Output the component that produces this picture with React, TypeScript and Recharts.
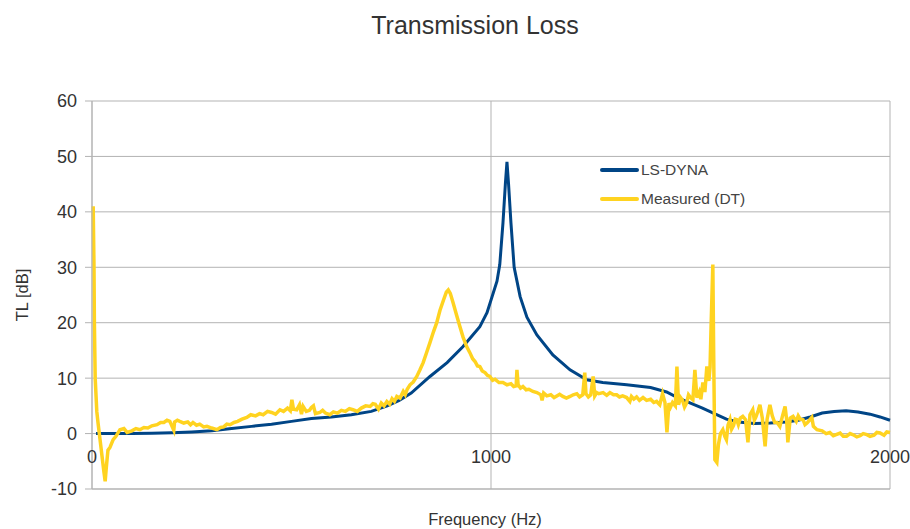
import React from "react";
import { LineChart, Line, XAxis, YAxis, CartesianGrid } from "recharts";

// LS-DYNA simulation (frequency in Hz, TL in dB)
const dynaFreq = [
  10, 50, 100, 150, 200, 250, 300, 350, 400, 450, 500, 550, 600, 650, 700, 740, 770, 800, 847, 890,
  930, 972, 990, 1015, 1022, 1030, 1036, 1040, 1044, 1050, 1058, 1073, 1090, 1115, 1155, 1198, 1240,
  1280, 1340, 1400, 1440, 1470, 1500, 1530, 1560, 1590, 1620, 1660, 1700, 1740, 1770, 1800, 1830,
  1860, 1890, 1920, 1950, 1975, 2000,
];
const dynaTL = [
  0, 0, 0, 0.05, 0.15, 0.3, 0.5, 0.9, 1.3, 1.7, 2.2, 2.7, 3.0, 3.4, 4.0, 5.0, 6.0, 7.3, 10.3, 12.8,
  15.7, 19.3, 21.8, 27.5, 30.5, 38, 45, 49, 45, 38, 30, 24.7, 21, 17.8, 14.2, 11.5, 9.7,
  9.2, 8.8, 8.3, 7.5, 6.4, 5.5, 4.6, 3.6, 2.6, 2.1, 1.8, 1.9, 2.1, 2.4, 3.0, 3.7,
  4.0, 4.1, 3.9, 3.5, 3.0, 2.4,
];

// Measured (DT)
const measFreq = [
  3, 5, 6, 8, 12, 15, 20, 25, 30, 33, 36, 40, 45, 53, 60, 70, 80, 88, 100, 110, 120, 130, 140, 150, 163, 172, 180, 188, 195,
  205, 207, 214, 220, 230, 240, 247, 253, 262, 270, 280, 288, 300, 313, 322, 330, 338, 346, 356, 365, 376, 388, 398, 410, 420, 429, 440, 450, 460, 471, 480, 490, 497, 501, 505,
  513, 520, 525, 529, 537, 545, 550, 555, 560, 571, 578, 585, 596, 605, 615, 625, 635, 645, 654, 665, 675, 686, 697, 704, 710, 718, 725, 732, 739, 746, 752,
  758, 764, 772, 780, 785, 790, 797, 805, 814, 822, 830, 838, 847, 856, 864, 872, 881, 888, 893, 898, 905, 914,
  922, 930, 939, 947, 954, 960, 966, 972, 978, 985, 991, 997, 1004, 1010, 1020, 1030, 1040, 1050, 1057, 1063, 1065, 1068, 1074, 1080, 1088, 1095, 1105, 1115, 1125,
  1128, 1132, 1140, 1150, 1158, 1165, 1172, 1180, 1189, 1198, 1206, 1215, 1222, 1230, 1235, 1238, 1244, 1250, 1256, 1260, 1265, 1270, 1281, 1290, 1298, 1307, 1315,
  1322, 1330, 1340, 1348, 1352, 1358, 1365, 1372, 1381, 1390, 1400, 1408, 1415, 1423, 1430, 1436, 1441, 1446, 1450, 1455, 1462, 1466, 1470, 1475, 1480,
  1485, 1490, 1495, 1500, 1506, 1511, 1516, 1522, 1526, 1531, 1536, 1541, 1546, 1549, 1552, 1556, 1558, 1561, 1566, 1570,
  1575, 1581, 1586, 1590, 1594, 1599, 1603, 1608, 1612, 1616, 1620, 1625, 1631, 1638, 1644, 1649, 1656, 1660, 1664, 1670, 1674,
  1680, 1687, 1692, 1699, 1705, 1711, 1717, 1724, 1730, 1737, 1741, 1744, 1750, 1757, 1765, 1770, 1775, 1782,
  1787, 1792, 1798, 1804, 1808, 1817, 1830, 1840, 1849, 1858, 1865, 1875, 1883, 1891, 1900, 1910, 1917, 1925, 1933, 1942, 1950, 1960, 1967, 1975, 1985, 1992, 2000,
];
const measTL = [
  41, 30, 20, 10, 4, 2, -1, -4, -7, -8.6, -6, -3, -2.5, -1.1, -0.5, 0.7, 0.9, 0.2, 0.5, 0.9, 0.7, 1.1, 1.0, 1.4, 1.6, 2.0, 2.0, 2.4, 2.2,
  0.6, 2.1, 2.4, 2.2, 1.9, 2.1, 1.6, 2.0, 1.5, 1.7, 1.2, 1.3, 1.0, 0.7, 1.1, 1.2, 1.7, 1.6, 2.0, 2.2, 2.6, 2.9, 3.4, 3.2, 3.6, 3.4, 4.0, 3.8, 3.5, 4.3, 4.0, 4.6, 4.1, 6.1, 4.4,
  4.3, 5.2, 3.5, 4.9, 4.0, 4.2, 4.7, 5.0, 3.6, 3.8, 4.2, 3.7, 3.4, 3.9, 3.7, 4.2, 4.0, 4.5, 4.3, 4.0, 4.6, 5.0, 4.9, 5.4, 5.3, 4.4, 5.5, 5.0, 5.8, 5.3, 6.3,
  5.8, 6.7, 6.4, 7.6, 7.0, 8.0, 8.8, 9.3, 10.3, 11.5, 12.8, 14.5, 16.4, 18.4, 20, 22.2, 24.1, 25.5, 25.9, 25.3, 23.6, 21.3,
  19.3, 17.4, 15.7, 14.6, 13.5, 13, 12.2, 12.1, 11.3, 11.0, 10.5, 10.3, 9.6, 9.8, 9.2, 9.2, 8.8, 9.0, 8.5, 8.6, 11.5, 8.8, 8.2, 8.5, 7.9, 8.0, 7.6, 7.4, 7.0,
  6.0, 7.3, 6.8, 7.0, 6.5, 6.8, 7.1, 6.7, 6.4, 6.7, 7.0, 7.2, 6.6, 7.0, 11.0, 7.2, 6.6, 7.0, 10.3, 6.8, 7.4, 7.2, 7.4, 6.9, 7.4, 7.0, 7.0,
  6.6, 6.8, 6.5, 5.8, 6.7, 6.2, 6.6, 6.0, 6.5, 6.0, 6.2, 5.6, 5.8, 5.2, 7.2, 5.6, 0.2, 5.5, 4.8, 5.6, 5.0, 12.1, 5.2, 6.5, 6.0,
  4.8, 5.5, 7.0, 6.5, 6.1, 11.5, 6.5, 7.5, 6.2, 9.2, 7.5, 12.1, 9.5, 12.0, 20.5, 30.5, 15, -4.7, -5.2, -2,
  0, 0.7, -0.5, -1.1, 1.5, 2.5, 0.8, 1.5, 2.6, 2.5, 1.6, 2.8, 3.1, 2.5, -1.6, 3.4, 4.3, 2.4, 3.0, 4.2, 5.2,
  2.8, -2.3, 2.6, 5.2, 3.2, 2.0, 2.0, 1.3, 3.0, 4.9, 2.5, -1.6, 2.8, 3.1, 2.2, 3.2, 2.6, 2.5,
  1.6, 1.9, 2.4, 2.9, 1.3, 0.7, 0.5, 0.0, 0.2, -0.4, -0.2, 0.1, -0.5, -0.5, 0.0, -0.3, -0.6, -0.4, 0.0, -0.2, -0.5, -0.3, 0.2, 0.1, -0.3, 0.3, 0.2,
];

const yTicks = [-10, 0, 10, 20, 30, 40, 50, 60];
const xTicks = [0, 1000, 2000];

const dynaData = dynaFreq.map((f, i) => ({ freq: f, tl: dynaTL[i] }));
const measData = measFreq.map((f, i) => ({ freq: f, tl: measTL[i] }));

const FONT = "'Liberation Sans', Arial, sans-serif";
const GRID = "#b3b3b3";

const series = [
  { name: "LS-DYNA", color: "#004586" },
  { name: "Measured (DT)", color: "#ffd320" },
];

const XTick = (props: any) => {
  const { x, y, payload } = props;
  return (
    <text x={x} y={y - 34} textAnchor="middle" fill="#333" fontSize={18} fontFamily={FONT}>
      {payload.value}
    </text>
  );
};

const LegendBox = () => (
  <div
    style={{
      position: "absolute",
      left: 600,
      top: 155,
      fontFamily: FONT,
      fontSize: 15.5,
      color: "#444",
    }}
  >
    {series.map((s) => (
      <div key={s.name} style={{ display: "flex", alignItems: "center", height: 29 }}>
        <span style={{ width: 39, height: 4, background: s.color, marginRight: 2, borderRadius: 2 }} />
        <span>{s.name}</span>
      </div>
    ))}
  </div>
);

export default function App() {
  return (
    <div style={{ position: "absolute", left: 0, top: 0, width: 910, height: 529, background: "#fff" }}>
      <div
        style={{
          position: "absolute",
          left: 0,
          top: 12,
          width: 950,
          textAlign: "center",
          fontFamily: FONT,
          fontSize: 25,
          lineHeight: "26px",
          color: "#333",
        }}
      >
        Transmission Loss
      </div>
      <LineChart width={910} height={529} margin={{ top: 101, right: 20, bottom: 0, left: 10 }}>
        <CartesianGrid stroke={GRID} />
        <XAxis
          dataKey="freq"
          type="number"
          domain={[0, 2000]}
          ticks={xTicks}
          height={40}
          axisLine={{ stroke: GRID }}
          tickLine={false}
          tick={<XTick />}
          label={{
            value: "Frequency (Hz)",
            position: "insideBottom",
            offset: 4,
            dx: -6,
            style: { fontSize: 16.5, fill: "#333", fontFamily: FONT },
          }}
        />
        <YAxis
          type="number"
          domain={[-10, 60]}
          ticks={yTicks}
          width={82}
          axisLine={{ stroke: GRID }}
          tickLine={{ stroke: GRID }}
          tickSize={7}
          tickMargin={8}
          tick={{ fontSize: 18, fill: "#333", fontFamily: FONT }}
          label={{
            value: "TL [dB]",
            angle: -90,
            position: "insideLeft",
            offset: 12,
            style: { textAnchor: "middle", fontSize: 16.5, fill: "#333", fontFamily: FONT },
          }}
        />
        <Line
          data={dynaData}
          dataKey="tl"
          name="LS-DYNA"
          type="linear"
          stroke="#004586"
          strokeWidth={3}
          dot={false}
          isAnimationActive={false}
        />
        <Line
          data={measData}
          dataKey="tl"
          name="Measured (DT)"
          type="linear"
          stroke="#ffd320"
          strokeWidth={3.5}
          dot={false}
          isAnimationActive={false}
        />
      </LineChart>
      <LegendBox />
    </div>
  );
}
